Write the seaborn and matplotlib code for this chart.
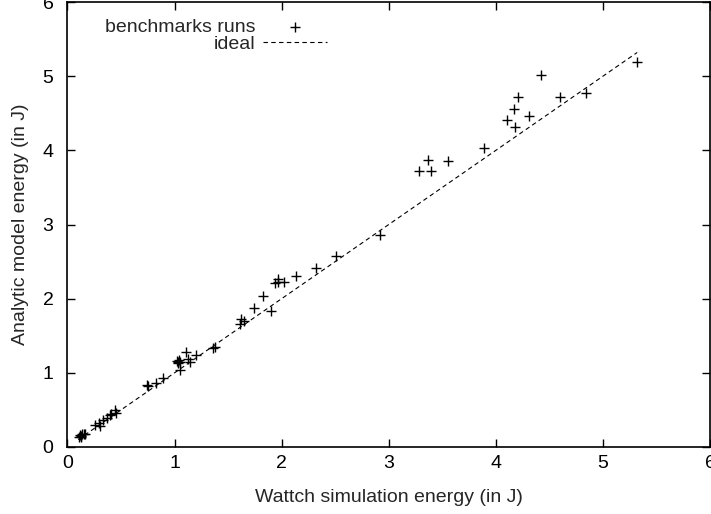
import matplotlib
matplotlib.use("Agg")
import matplotlib.pyplot as plt
import seaborn as sns
import pandas as pd

# benchmark runs (x = Wattch, y = analytic model)
sim_energy = [
    5.32, 4.42, 4.21, 4.60, 4.84, 4.17, 4.10, 4.31, 4.18, 3.89,
    3.37, 3.28, 3.39, 3.55, 2.92, 2.51, 2.32, 2.13, 1.97, 1.94,
    1.97, 2.02, 1.83, 1.74, 1.90, 1.62, 1.65, 1.61, 1.38, 1.36,
    1.20, 1.11, 1.13, 1.14, 1.02, 1.03, 1.04, 1.05, 1.03, 1.05,
    0.89, 0.83, 0.74, 0.75, 0.44, 0.41, 0.40, 0.37, 0.45, 0.33,
    0.29, 0.26, 0.30, 0.11, 0.12, 0.13, 0.14, 0.15, 0.16, 0.13,
]
model_energy = [
    5.19, 5.02, 4.72, 4.72, 4.77, 4.56, 4.41, 4.46, 4.31, 4.03,
    3.87, 3.72, 3.72, 3.85, 2.86, 2.58, 2.42, 2.30, 2.27, 2.21,
    2.23, 2.22, 2.04, 1.88, 1.83, 1.73, 1.70, 1.66, 1.35, 1.33,
    1.24, 1.28, 1.18, 1.15, 1.16, 1.14, 1.17, 1.15, 1.13, 1.04,
    0.93, 0.86, 0.84, 0.82, 0.50, 0.45, 0.43, 0.39, 0.46, 0.36,
    0.32, 0.30, 0.28, 0.14, 0.16, 0.15, 0.18, 0.17, 0.18, 0.13,
]

df = pd.DataFrame({"sim": sim_energy, "model": model_energy})
ideal = pd.DataFrame({"x": [0.1, max(sim_energy)]})
ideal["y"] = ideal["x"]

sns.set_theme(style="ticks")
plt.rcParams["font.family"] = ["Liberation Sans", "DejaVu Sans"]
FS = 14

fig = plt.figure(figsize=(7.11, 5.14), dpi=100)
ax = fig.add_axes([0.0949, 0.1304, 0.9037, 0.8656])

sns.scatterplot(data=df, x="sim", y="model", marker="+", s=55, color="black",
                linewidth=1.0, ax=ax, label="benchmarks runs", zorder=3)
sns.lineplot(data=ideal, x="x", y="y", color="black", linewidth=0.8,
             linestyle=(0, (4, 3)), ax=ax, label="ideal")

ax.set_xlim(0, 6)
ax.set_ylim(0, 6)
ax.set_xticks(range(0, 7))
ax.set_yticks(range(0, 7))
ax.tick_params(direction="in", length=6, width=1, top=True, right=True,
               labelsize=FS, colors="black")
ax.tick_params(axis="x", pad=6)
ax.tick_params(axis="y", pad=10)
for s in ax.spines.values():
    s.set_linewidth(1.2)
    s.set_color("black")
ax.set_xlabel("Wattch simulation energy (in J)", fontsize=FS, labelpad=12)
ax.set_ylabel("Analytic model energy (in J)", fontsize=FS, labelpad=10)

ax.legend(loc="upper left", bbox_to_anchor=(0.058, 0.964), frameon=False,
          markerfirst=False, borderpad=0, borderaxespad=0, handlelength=3.3,
          handletextpad=0.4, labelspacing=0.0, fontsize=FS)

fig.savefig("out.png", dpi=100)
